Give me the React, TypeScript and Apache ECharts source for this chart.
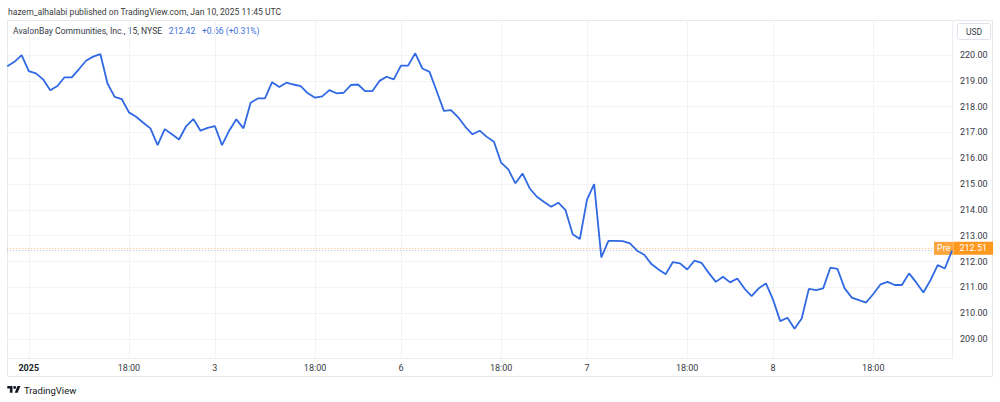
import React, { useEffect, useRef } from "react";
import * as echarts from "echarts";

// ---- data ----
const sessionDays = ["Dec 31", "Jan 2", "Jan 3", "Jan 6", "Jan 7", "Jan 8"];
const barTimes = [
  "14:30", "14:45", "15:00", "15:15", "15:30", "15:45", "16:00", "16:15", "16:30", "16:45",
  "17:00", "17:15", "17:30", "17:45", "18:00", "18:15", "18:30", "18:45", "19:00", "19:15",
  "19:30", "19:45", "20:00", "20:15", "20:30", "20:45",
];
const dec31 = [219.57, 219.74, 220.0];
const jan2 = [219.38, 219.29, 219.06, 218.64, 218.8, 219.14, 219.14, 219.45, 219.78, 219.94, 220.04, 218.9, 218.38, 218.29, 217.78, 217.61, 217.38, 217.16, 216.51, 217.13, 216.93, 216.73, 217.25, 217.52, 217.07, 217.18];
const jan3 = [217.25, 216.51, 217.07, 217.51, 217.16, 218.15, 218.32, 218.32, 218.95, 218.76, 218.93, 218.86, 218.8, 218.52, 218.35, 218.4, 218.64, 218.52, 218.54, 218.84, 218.86, 218.6, 218.6, 219.0, 219.16, 219.06];
const jan6 = [219.59, 219.59, 220.07, 219.48, 219.35, 218.6, 217.84, 217.87, 217.59, 217.22, 216.93, 217.07, 216.83, 216.64, 215.83, 215.57, 215.03, 215.41, 214.83, 214.51, 214.31, 214.12, 214.28, 213.99, 213.06, 212.87];
const jan7 = [214.4, 215.0, 212.16, 212.8, 212.8, 212.79, 212.7, 212.42, 212.26, 211.9, 211.69, 211.51, 211.98, 211.93, 211.69, 212.03, 211.95, 211.56, 211.21, 211.41, 211.19, 211.34, 210.95, 210.66, 210.96, 211.15];
const jan8 = [210.52, 209.69, 209.82, 209.39, 209.79, 210.94, 210.89, 210.96, 211.76, 211.71, 210.96, 210.6, 210.5, 210.41, 210.74, 211.11, 211.21, 211.09, 211.09, 211.54, 211.19, 210.8, 211.28, 211.86, 211.73, 212.42];
const dayPrices = [dec31, jan2, jan3, jan6, jan7, jan8];

const timeTicks: Record<string, string> = {
  "Jan 2 14:30": "2025",
  "Jan 2 18:00": "18:00",
  "Jan 3 14:30": "3",
  "Jan 3 18:00": "18:00",
  "Jan 6 14:30": "6",
  "Jan 6 18:00": "18:00",
  "Jan 7 14:30": "7",
  "Jan 7 18:00": "18:00",
  "Jan 8 14:30": "8",
  "Jan 8 18:00": "18:00",
};
const yearLabel = "2025";
const priceTicks = [209, 210, 211, 212, 213, 214, 215, 216, 217, 218, 219, 220];

const lastPrice = 212.42;
const priceChange = 0.66;
const priceChangePct = 0.31;
const prePrice = 212.51;
const title = "AvalonBay Communities, Inc., 15, NYSE";
const headerText = "hazem_alhalabi published on TradingView.com, Jan 10, 2025 11:45 UTC";

// ---- build ----
const categories: string[] = [];
const values: number[] = [];
dayPrices.forEach((prices, d) => {
  const times = barTimes.slice(barTimes.length - prices.length);
  prices.forEach((p, i) => {
    categories.push(`${sessionDays[d]} ${times[i]}`);
    values.push(p);
  });
});

const yMin = 208.26;
const yMax = 221.36;

echarts.graphic.registerShape(
  "tvlogo",
  echarts.graphic.extendPath(
    "M14 22H7V11H0V4h14v18zM28 22h-8l7.5-18h8L28 22zM16 8a4 4 0 1 0 8 0a4 4 0 1 0-8 0z",
    {}
  )
);

const font = "Roboto, 'Trebuchet MS', sans-serif";
const lineColor = "#3069e3";
const textColor = "#363a45";

const isTick = (_i: number, v: string) => v in timeTicks;

const option: any = {
  animation: false,
  backgroundColor: "#ffffff",
  textStyle: { fontFamily: font },
  grid: { left: 7.3, right: 48, top: 20, bottom: 44, containLabel: false },
  xAxis: {
    type: "category",
    data: categories,
    boundaryGap: false,
    axisLine: { show: true, lineStyle: { color: "#eceef3" } },
    axisTick: { show: false },
    axisLabel: {
      interval: isTick,
      formatter: (v: string) =>
        timeTicks[v] === yearLabel ? `{b|${timeTicks[v]}}` : timeTicks[v] || "",
      color: textColor,
      fontSize: 9,
      fontFamily: font,
      margin: 5,
      rich: { b: { fontWeight: "bold", fontSize: 9, color: "#202329", fontFamily: font } },
    },
    splitLine: { show: true, interval: isTick, lineStyle: { color: "#f2f3f7", width: 1 } },
  },
  yAxis: {
    type: "value",
    position: "right",
    min: yMin,
    max: yMax,
    axisLine: { show: true, lineStyle: { color: "#eceef3" } },
    axisTick: { show: false, customValues: priceTicks },
    axisLabel: {
      customValues: priceTicks,
      formatter: (v: number) => v.toFixed(2),
      color: textColor,
      fontSize: 9,
      fontFamily: font,
      margin: 8,
    },
    splitLine: { show: true, lineStyle: { color: "#f2f3f7", width: 1 } },
  },
  series: [
    {
      type: "line",
      data: values,
      showSymbol: false,
      symbol: "none",
      lineStyle: { color: lineColor, width: 1.8 },
      itemStyle: { color: lineColor },
      z: 5,
      markLine: {
        silent: true,
        symbol: ["none", "none"],
        animation: false,
        data: [
          {
            yAxis: lastPrice,
            lineStyle: { color: "#b4bfd4", type: [1, 2], width: 1 },
            label: { show: false },
          },
          {
            yAxis: prePrice,
            lineStyle: { color: "#fdbd7a", type: [1, 2], width: 1 },
            label: {
              show: true,
              position: "end",
              distance: [-18, 0],
              formatter: `{p|Pre}{v|${prePrice.toFixed(2)}}`,
              rich: {
                p: {
                  backgroundColor: "#fca53c",
                  color: "#ffffff",
                  fontSize: 9,
                  lineHeight: 10,
                  padding: [2, 3, 2, 3],
                  fontFamily: font,
                },
                v: {
                  backgroundColor: "#ff981f",
                  color: "#ffffff",
                  fontSize: 9,
                  lineHeight: 10,
                  padding: [2, 6, 2, 6],
                  fontFamily: font,
                },
              },
            },
          },
        ],
      },
    },
  ],
  graphic: [
    {
      type: "rect",
      silent: true,
      z: -1,
      shape: { x: 7.5, y: 20.5, width: 985, height: 356 },
      style: { fill: "none", stroke: "#e6e8ee", lineWidth: 1 },
    },
    {
      type: "text",
      x: 8,
      y: 11.5,
      style: {
        text: headerText,
        fontSize: 8.6,
        fontFamily: font,
        fill: "#3a3a3a",
        verticalAlign: "middle",
        textVerticalAlign: "middle",
      },
    },
    {
      type: "text",
      x: 13,
      y: 31,
      style: {
        text: `{a|${title}}  {b|${lastPrice.toFixed(2)}}  {b|+${priceChange.toFixed(2)} (+${priceChangePct.toFixed(2)}%)}`,
        verticalAlign: "middle",
        textVerticalAlign: "middle",
        rich: {
          a: { fontSize: 8.6, fontFamily: font, fill: "#363a45", color: "#363a45" },
          b: { fontSize: 8.6, fontFamily: font, fill: "#3d6fe0", color: "#3d6fe0" },
        },
      },
    },
    {
      type: "rect",
      shape: { x: 957.5, y: 23.5, width: 33, height: 16, r: 2 },
      style: { fill: "#ffffff", stroke: "#e0e3eb", lineWidth: 1 },
    },
    {
      type: "text",
      x: 974,
      y: 31.5,
      style: {
        text: "USD",
        fontSize: 8.5,
        fontFamily: font,
        fill: textColor,
        align: "center",
        textAlign: "center",
        verticalAlign: "middle",
        textVerticalAlign: "middle",
      },
    },
    {
      type: "tvlogo",
      x: 7.3,
      y: 384.5,
      scaleX: 0.37,
      scaleY: 0.37,
      style: { fill: "#131722" },
    },
    {
      type: "text",
      x: 24,
      y: 390,
      style: {
        text: "TradingView",
        fontSize: 9.5,
        fontFamily: font,
        fill: "#131722",
        verticalAlign: "middle",
        textVerticalAlign: "middle",
      },
    },
  ],
};

export default function App() {
  const ref = useRef<HTMLDivElement>(null);
  useEffect(() => {
    if (!ref.current) return;
    const chart = echarts.init(ref.current, null, { renderer: "svg" });
    chart.setOption(option);
    return () => chart.dispose();
  }, []);
  return (
    <div
      ref={ref}
      style={{ position: "absolute", left: 0, top: 0, width: 1000, height: 402, background: "#ffffff" }}
    />
  );
}
